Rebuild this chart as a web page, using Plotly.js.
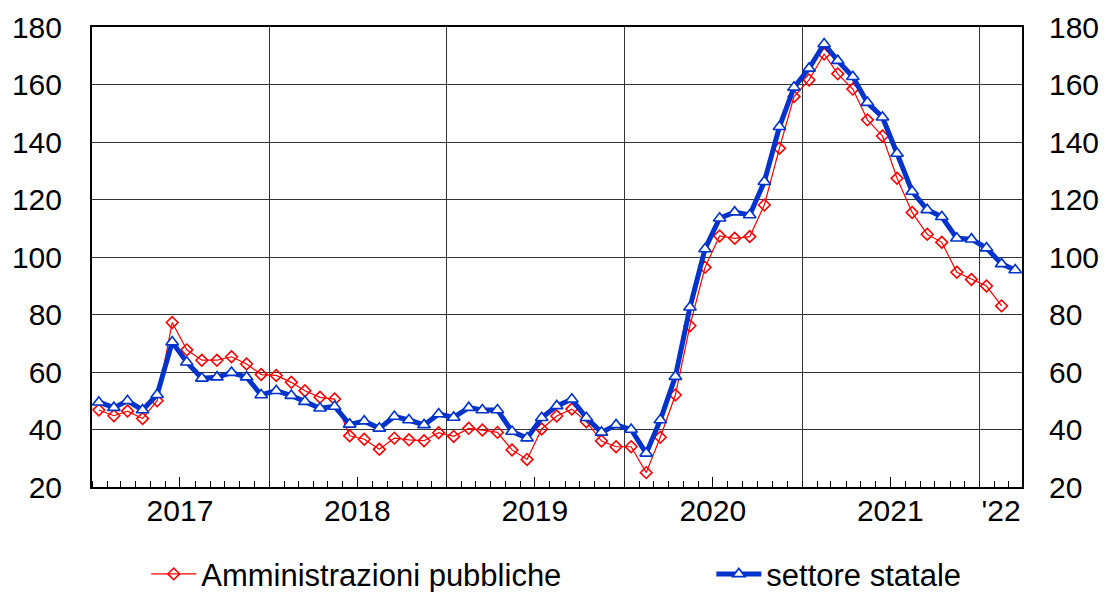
<!DOCTYPE html>
<html>
<head>
<meta charset="utf-8">
<script src="https://cdn.plot.ly/plotly-3.0.1.min.js"></script>
<style>
  html, body { margin: 0; padding: 0; background: #ffffff; }
  #chart { width: 1108px; height: 592px; }
</style>
</head>
<body>
<div id="chart"></div>
<script>
// Monthly observations, January 2017 to March 2022
const months = [
  '2017-01','2017-02','2017-03','2017-04','2017-05','2017-06','2017-07','2017-08','2017-09','2017-10','2017-11','2017-12',
  '2018-01','2018-02','2018-03','2018-04','2018-05','2018-06','2018-07','2018-08','2018-09','2018-10','2018-11','2018-12',
  '2019-01','2019-02','2019-03','2019-04','2019-05','2019-06','2019-07','2019-08','2019-09','2019-10','2019-11','2019-12',
  '2020-01','2020-02','2020-03','2020-04','2020-05','2020-06','2020-07','2020-08','2020-09','2020-10','2020-11','2020-12',
  '2021-01','2021-02','2021-03','2021-04','2021-05','2021-06','2021-07','2021-08','2021-09','2021-10','2021-11','2021-12',
  '2022-01','2022-02','2022-03'
];

// Amministrazioni pubbliche (ends February 2022)
const amministrazioniPubbliche = [
  46.8, 44.8, 46.4, 43.8, 50.0, 77.2, 67.7, 64.1, 64.1, 65.3, 62.8, 59.1,
  58.8, 56.4, 53.5, 51.2, 50.6, 37.8, 36.6, 33.1, 37.0, 36.4, 36.1, 38.9,
  37.6, 40.4, 39.8, 39.0, 32.9, 29.6, 40.2, 44.7, 47.1, 42.7, 36.0, 34.0,
  34.0, 25.0, 37.3, 52.0, 76.1, 96.4, 107.3, 106.5, 107.1, 118.1, 137.8, 155.8,
  161.6, 170.6, 163.7, 158.4, 147.7, 142.1, 127.4, 115.5, 107.9, 105.1, 94.7, 92.2,
  89.9, 83.0
];

// Settore statale (ends March 2022)
const settoreStatale = [
  49.5, 47.6, 50.0, 46.8, 52.1, 70.4, 63.4, 57.8, 58.2, 59.8, 58.2, 52.0,
  53.5, 51.8, 49.7, 47.4, 48.0, 41.8, 42.9, 40.4, 44.5, 43.3, 41.6, 45.4,
  44.2, 47.6, 46.8, 46.8, 39.3, 37.0, 44.1, 48.2, 50.5, 44.1, 39.0, 41.6,
  40.0, 31.7, 43.3, 58.4, 82.5, 102.8, 113.5, 115.6, 114.6, 126.2, 145.3, 159.0,
  165.6, 174.1, 168.3, 162.7, 153.7, 148.6, 136.0, 122.8, 116.4, 114.0, 106.5, 106.2,
  103.1, 97.6, 95.5
];

const seriesNames = ['Amministrazioni pubbliche', 'settore statale'];

// Axis labels and tick positions
const yearBoundaries = ['2018-01-01','2019-01-01','2020-01-01','2021-01-01','2022-01-01'];
const midYears = ['2017-07-01','2018-07-01','2019-07-01','2020-07-01','2021-07-01'];
const yearLabelPos = ['2017-07-01','2018-07-01','2019-07-01','2020-07-01','2021-07-01','2022-02-14'];
const yearLabels = ['2017','2018','2019','2020','2021',"'22"];
const yTicks = [20, 40, 60, 80, 100, 120, 140, 160, 180];

const xRange = ['2017-01-01', '2022-03-29'];
const yRange = [20, 180];

const xMid = months.map(m => m + '-15');

const FONT = 'Liberation Sans, Arial, sans-serif';
const RED = '#ff0000';
const BLUE = '#0033cc';

// invisible helper trace so that overlay axes (ticks / labels) get drawn
function helper(xa, ya) {
  return {
    x: xMid.slice(0, settoreStatale.length), y: settoreStatale,
    type: 'scatter', mode: 'lines', line: { width: 0, color: 'rgba(0,0,0,0)' },
    opacity: 0, showlegend: false, hoverinfo: 'skip', xaxis: xa, yaxis: ya
  };
}

const traces = [
  helper('x2', 'y'),
  helper('x3', 'y2'),
  {
    x: xMid.slice(0, amministrazioniPubbliche.length),
    y: amministrazioniPubbliche,
    name: seriesNames[0],
    type: 'scatter',
    mode: 'lines+markers',
    line: { color: RED, width: 1.2 },
    marker: { symbol: 'diamond-open', size: 9, color: RED, line: { color: RED, width: 1.6 } },
    xaxis: 'x', yaxis: 'y',
    legend: 'legend'
  },
  {
    x: xMid.slice(0, settoreStatale.length),
    y: settoreStatale,
    name: seriesNames[1],
    type: 'scatter',
    mode: 'lines+markers',
    line: { color: BLUE, width: 5 },
    marker: { symbol: 'triangle-up', size: 11, color: '#ffffff', line: { color: BLUE, width: 1.6 } },
    xaxis: 'x', yaxis: 'y',
    legend: 'legend2'
  }
];

const legendBase = {
  orientation: 'h',
  xref: 'container', xanchor: 'left',
  yref: 'container', y: 0.03, yanchor: 'middle',
  font: { family: FONT, size: 31, color: '#000000' },
  itemwidth: 45,
  bgcolor: 'rgba(0,0,0,0)'
};

const layout = {
  width: 1108,
  height: 592,
  margin: { l: 92, r: 86, t: 27, b: 105 },
  paper_bgcolor: '#ffffff',
  plot_bgcolor: '#ffffff',
  font: { family: FONT, color: '#000000' },
  showlegend: true,
  legend: Object.assign({}, legendBase, { x: 0.132 }),
  legend2: Object.assign({}, legendBase, { x: 0.642 }),
  xaxis: {
    type: 'date',
    range: xRange,
    tickmode: 'array',
    tickvals: yearBoundaries,
    showticklabels: false,
    ticks: '',
    showgrid: true,
    gridcolor: '#333333',
    gridwidth: 1,
    showline: true,
    linecolor: '#000000',
    linewidth: 2,
    mirror: true,
    zeroline: false,
    minor: { tick0: '2017-01-01', dtick: 'M1', ticks: 'inside', ticklen: 6, tickcolor: '#000000', tickwidth: 1, showgrid: false }
  },
  xaxis2: {
    type: 'date',
    overlaying: 'x',
    anchor: 'y',
    side: 'bottom',
    range: xRange,
    tickmode: 'array',
    tickvals: midYears,
    showticklabels: false,
    ticks: 'inside',
    ticklen: 10,
    tickcolor: '#000000',
    tickwidth: 1,
    showgrid: false,
    showline: false,
    zeroline: false
  },
  xaxis3: {
    type: 'date',
    overlaying: 'x',
    anchor: 'y2',
    side: 'bottom',
    range: xRange,
    tickmode: 'array',
    tickvals: yearLabelPos,
    ticktext: yearLabels,
    ticks: '',
    ticklabelstandoff: 3,
    tickfont: { family: FONT, size: 30, color: '#000000' },
    showgrid: false,
    showline: false,
    zeroline: false
  },
  yaxis: {
    range: yRange,
    tickmode: 'array',
    tickvals: yTicks,
    ticks: '',
    ticklabelstandoff: 22,
    tickfont: { family: FONT, size: 30, color: '#000000' },
    showgrid: true,
    gridcolor: '#333333',
    gridwidth: 1,
    showline: true,
    linecolor: '#000000',
    linewidth: 2,
    mirror: true,
    zeroline: false
  },
  yaxis2: {
    overlaying: 'y',
    anchor: 'x3',
    side: 'right',
    range: yRange,
    tickmode: 'array',
    tickvals: yTicks,
    ticks: '',
    ticklabelstandoff: 26,
    tickfont: { family: FONT, size: 30, color: '#000000' },
    showgrid: false,
    showline: false,
    zeroline: false
  }
};

Plotly.newPlot('chart', traces, layout, { displayModeBar: false, staticPlot: true });
</script>
</body>
</html>
